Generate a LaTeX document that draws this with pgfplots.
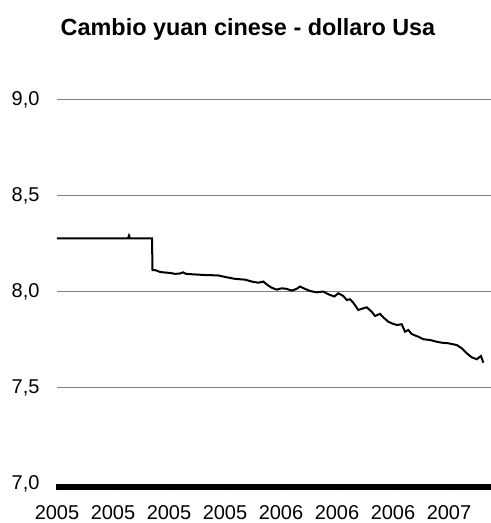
\documentclass[border=0pt]{standalone}
\usepackage{fontspec}
\setmainfont{Liberation Sans}
\usepackage{pgfplots}
\pgfplotsset{compat=1.18}
\definecolor{gridgray}{RGB}{128,128,128}

% exchange rate, x = position along the time axis
\pgfplotstableread{
x      v
0      8.277
60     8.277
71     8.277
72     8.292
73     8.277
95     8.277
95.5   8.113
98     8.113
103    8.103
108    8.100
113    8.098
118    8.093
123    8.095
126    8.101
129    8.093
138    8.090
148    8.087
161    8.085
168    8.077
178    8.067
188    8.063
194.7  8.053
201.3  8.047
206.3  8.053
211.3  8.032
214.7  8.021
219.7  8.011
224.7  8.018
229.7  8.015
234.7  8.006
239.7  8.015
243    8.027
248    8.015
253    8.004
259.7  7.997
266.3  8.001
271.3  7.987
277.3  7.975
281.3  7.992
286.3  7.978
289.7  7.957
293    7.961
296.3  7.943
301.3  7.905
306.3  7.914
309.7  7.919
314.7  7.896
318    7.874
323    7.885
326.3  7.867
331.3  7.844
334.7  7.836
339.7  7.827
344.7  7.831
348    7.792
351.3  7.801
354.7  7.780
361.3  7.766
366.3  7.753
373    7.749
379.7  7.740
384.7  7.735
391.3  7.732
399.7  7.723
404.7  7.706
409.7  7.680
414.7  7.659
419.7  7.649
424    7.666
426.3  7.631
}\cambio

\begin{document}
\begin{tikzpicture}
\begin{axis}[
    scale only axis,
    width=434bp, height=384.5bp,
    xmin=0, xmax=434,
    ymin=7, ymax=9,
    axis x line*=bottom, axis y line*=left,
    y axis line style={draw=none},
    x axis line style={line width=1bp},
    ytick={7,7.5,8,8.5,9},
    ymajorgrids,
    major grid style={draw=gridgray, line width=1bp},
    ytick style={draw=none},
    xtick={0,56,112,168,224,280,336,392},
    xticklabels={2005,2005,2005,2005,2006,2006,2006,2007},
    minor xtick={0,1,...,434},
    tick align=outside,
    xtick style={line width=1.3bp, black},
    major tick length=6bp, minor tick length=6bp,
    /pgf/number format/.cd, use comma, fixed, fixed zerofill, precision=1,
        assume math mode=true,
    /pgfplots/.cd,
    tick label style={font=\fontsize{20bp}{24bp}\selectfont},
    yticklabel style={xshift=-8bp},
    xticklabel style={yshift=-12bp},
    title={Cambio yuan cinese - dollaro Usa},
    title style={font=\fontsize{23.4bp}{28bp}\selectfont\bfseries,
        at={(0.5,1)}, anchor=base, yshift=58bp, xshift=-26bp},
    clip=false,
]
\addplot[black, line width=2bp] table[x=x, y=v] {\cambio};
\end{axis}
\pgfresetboundingbox
\path[use as bounding box] ([shift={(-57bp,-39bp)}]current axis.south west) rectangle ++(491bp,523bp);
\end{tikzpicture}
\end{document}
